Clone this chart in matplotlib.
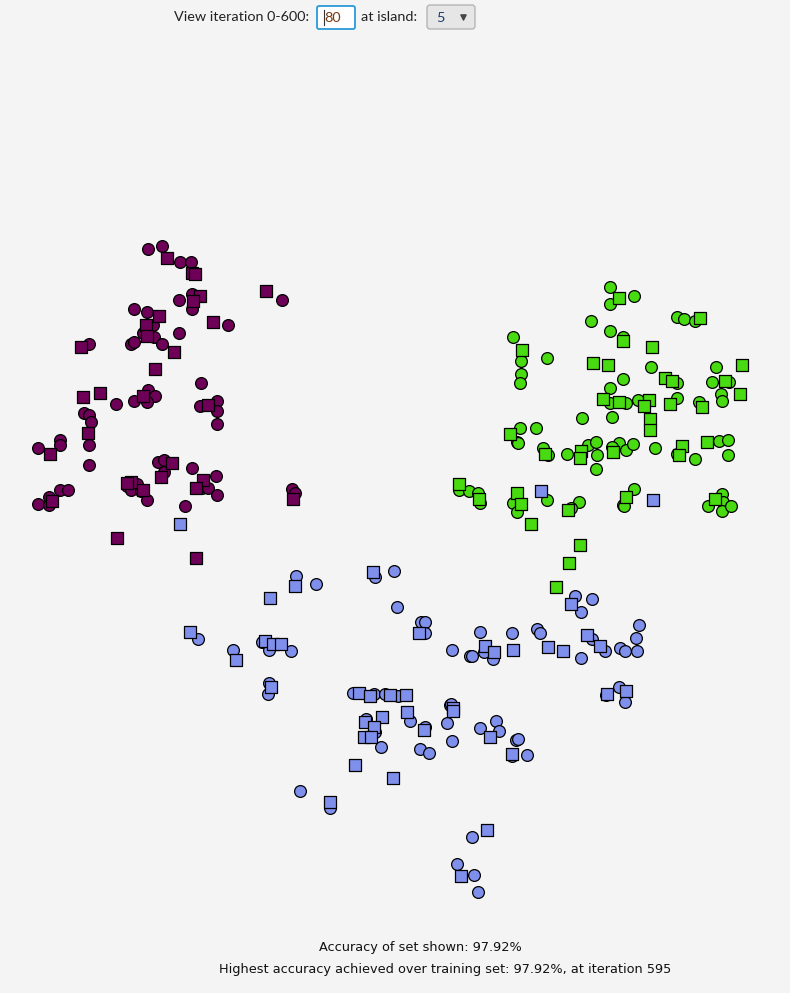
import matplotlib
matplotlib.use('Agg')
import matplotlib.pyplot as plt
from matplotlib.patches import FancyBboxPatch

# point positions (pixels, origin top-left)
purple_circles = [(148, 249), (162, 246), (180, 262), (191, 262), (192, 294), (179, 300), (192, 309), (282, 300),
                  (134, 309), (147, 312), (153, 325), (143, 333), (154, 337), (131, 344), (134, 342), (162, 344),
                  (179, 333), (228, 325), (89, 344), (201, 383), (200, 406), (217, 401), (116, 404), (134, 401),
                  (148, 390), (155, 396), (147, 402), (217, 411), (217, 424), (84, 413), (89, 415), (91, 422),
                  (89, 445), (89, 465), (60, 440), (60, 445), (38, 448), (158, 462), (164, 460), (164, 472),
                  (192, 468), (216, 476), (202, 488), (208, 488), (217, 495), (185, 506), (127, 486), (137, 484),
                  (131, 490), (141, 491), (147, 500), (60, 490), (68, 490), (49, 497), (38, 504), (49, 505),
                  (292, 489), (295, 493)]
purple_squares = [(167, 258), (192, 273), (195, 274), (200, 296), (193, 301), (266, 291), (159, 316), (146, 325),
                  (147, 336), (174, 352), (213, 322), (81, 347), (155, 369), (208, 405), (83, 397), (100, 393),
                  (143, 396), (88, 433), (50, 454), (172, 463), (161, 477), (203, 480), (196, 488), (117, 538),
                  (196, 558), (131, 482), (127, 483), (143, 490), (52, 501), (293, 499)]

green_circles = [(610, 287), (610, 304), (634, 296), (677, 317), (684, 319), (695, 321), (591, 321), (610, 331),
                 (623, 337), (513, 337), (547, 358), (521, 361), (521, 374), (520, 383), (651, 367), (623, 379),
                 (610, 388), (677, 383), (716, 367), (712, 382), (729, 382), (721, 394), (722, 401), (610, 403),
                 (626, 403), (638, 400), (677, 398), (699, 402), (582, 418), (612, 417), (520, 428), (536, 428),
                 (517, 442), (518, 443), (543, 448), (548, 455), (567, 454), (588, 445), (596, 442), (597, 455),
                 (596, 469), (619, 443), (612, 447), (626, 450), (633, 444), (655, 448), (677, 454), (695, 459),
                 (719, 441), (728, 440), (728, 455), (459, 490), (469, 491), (478, 493), (480, 503), (513, 503),
                 (517, 512), (547, 500), (579, 502), (571, 508), (634, 489), (623, 505), (624, 506), (722, 494),
                 (723, 502), (708, 506), (722, 511), (731, 506)]
green_squares = [(619, 298), (700, 318), (623, 341), (652, 347), (522, 350), (593, 363), (608, 365), (665, 378),
                 (672, 381), (725, 381), (742, 365), (740, 394), (603, 399), (619, 402), (649, 400), (644, 406),
                 (670, 404), (702, 407), (650, 419), (650, 430), (510, 434), (545, 454), (581, 451), (580, 458),
                 (613, 452), (682, 446), (679, 455), (707, 442), (459, 484), (479, 499), (517, 493), (521, 504),
                 (531, 524), (568, 510), (626, 497), (715, 499), (580, 545), (569, 563), (556, 587)]

blue_circles = [(296, 576), (316, 584), (375, 577), (394, 571), (198, 639), (233, 650), (262, 642), (269, 650),
                (291, 651), (397, 607), (421, 622), (425, 622), (425, 633), (452, 650), (470, 656), (269, 683),
                (268, 694), (353, 693), (374, 694), (385, 694), (398, 696), (450, 705), (575, 596), (592, 599),
                (581, 612), (639, 625), (636, 638), (637, 651), (620, 648), (625, 651), (480, 632), (472, 656),
                (493, 659), (484, 652), (512, 633), (537, 629), (540, 633), (581, 658), (592, 639), (605, 651),
                (619, 687), (606, 695), (625, 702), (366, 719), (410, 721), (375, 732), (381, 747), (425, 727),
                (420, 749), (429, 753), (451, 704), (447, 723), (452, 741), (480, 728), (496, 721), (499, 731),
                (516, 740), (518, 739), (512, 756), (527, 755), (300, 791), (330, 808), (472, 837), (457, 864),
                (474, 875), (478, 892)]
blue_squares = [(180, 524), (541, 491), (653, 500), (295, 586), (270, 598), (373, 572), (190, 632), (236, 660),
                (265, 641), (273, 644), (281, 644), (419, 633), (271, 687), (359, 693), (370, 696), (390, 695),
                (406, 695), (453, 708), (571, 604), (485, 646), (494, 652), (513, 650), (548, 647), (563, 651),
                (587, 635), (600, 646), (626, 691), (607, 694), (407, 712), (365, 722), (382, 717), (374, 727),
                (364, 737), (371, 737), (355, 765), (393, 778), (424, 730), (453, 711), (490, 737), (512, 754),
                (330, 802), (487, 830), (461, 876)]

accuracy_shown = 97.92
accuracy_best = 97.92
best_iteration = 595
iteration_value = '80'
island_value = '5'

BG = '#f4f4f4'
groups = [
    (purple_circles, purple_squares, '#6e0058'),
    (green_circles, green_squares, '#48db12'),
    (blue_circles, blue_squares, '#7f8fec'),
]

fig = plt.figure(figsize=(7.9, 9.93), dpi=100, facecolor=BG)
ax = fig.add_axes([0, 0, 1, 1])
ax.set_facecolor(BG)
ax.set_xlim(0, 790)
ax.set_ylim(993, 0)
ax.axis('off')

for circles, squares, col in groups:
    cx, cy = zip(*circles)
    sx, sy = zip(*squares)
    ax.scatter(cx, cy, s=72, marker='o', c=col, edgecolors='black', linewidths=0.9, zorder=3)
    ax.scatter(sx, sy, s=72, marker='s', c=col, edgecolors='black', linewidths=0.9, zorder=3)

# top controls
ui_font = 'Lato'
ax.text(174, 17, 'View iteration 0-600:', fontsize=10.4, family=ui_font, color='#222222', va='center', ha='left')
box = FancyBboxPatch((317, 6), 38, 23, boxstyle='round,pad=0,rounding_size=2',
                     facecolor='white', edgecolor='#2a9ad8', linewidth=1.3, zorder=4)
ax.add_patch(box)
ax.text(324, 18, iteration_value, fontsize=10.4, family=ui_font, color='#7a3a10', va='center', ha='left', zorder=5)
ax.plot([324, 324], [10, 25], color='#333333', linewidth=0.8, zorder=5)
ax.text(361, 17, 'at island:', fontsize=10.4, family=ui_font, color='#222222', va='center', ha='left')
combo = FancyBboxPatch((427, 5), 48, 24, boxstyle='round,pad=0,rounding_size=3',
                       facecolor='#e6e6e6', edgecolor='#b5b5b5', linewidth=1.0, zorder=4)
ax.add_patch(combo)
ax.text(436, 18, island_value, fontsize=10.4, family=ui_font, color='#1a3a6a', va='center', ha='left', zorder=5)
ax.scatter([463], [17], marker='v', s=14, c='#444444', zorder=5)

# bottom texts
ax.text(420, 948, f'Accuracy of set shown: {accuracy_shown:.2f}%', fontsize=9.3,
        color='#111111', ha='center', va='center')
ax.text(445, 969, f'Highest accuracy achieved over training set: {accuracy_best:.2f}%, at iteration {best_iteration}',
        fontsize=9.3, color='#111111', ha='center', va='center')

fig.savefig('out.png', dpi=100, facecolor=BG)
